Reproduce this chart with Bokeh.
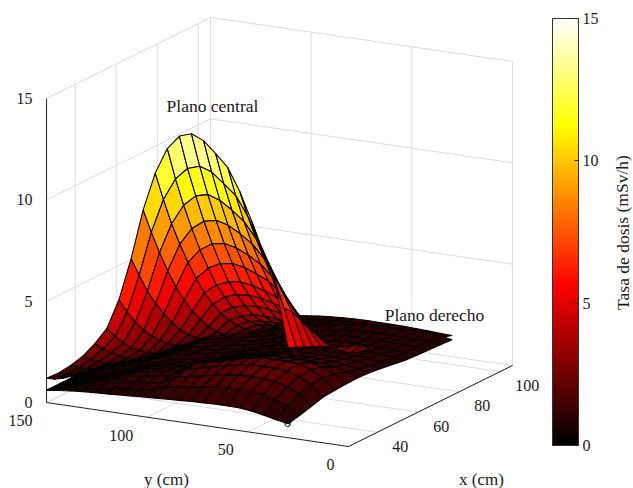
from bokeh.plotting import figure
from bokeh.models import LinearColorMapper, ColorBar, FixedTicker, ColumnDataSource
from bokeh.core.properties import value
from bokeh.embed import file_html
from bokeh.resources import INLINE

FONT = "Liberation Serif"

# ---- data ----
y_grid = [150,144,138,132,126,120,114,108,102,96,90,84,78,72,66,60,54,48,42,36,30]
x_grid = [26,30,34,38,42,46,50,54,58,62,66,70,74,78,82,86,90,94,98,102,106]

z_central = [
[1.2,1.55,2.0,2.55,3.25,4.1,5.6,7.7,10.2,12.1,13.4,14.1,14.3,14.05,13.5,12.9,11.8,10.4,8.8,7.3,4.45],
[.95,1.3,1.7,2.2,2.8,3.5,4.8,6.7,8.9,10.6,11.7,12.3,12.5,12.3,11.8,11.3,10.35,9.1,7.75,6.1,4.26],
[.8,1.1,1.45,1.9,2.4,3.0,4.1,5.7,7.7,9.2,10.2,10.75,10.9,10.7,10.3,9.83,9.06,8.0,6.83,5.7,4.07],
[.7,.95,1.25,1.6,2.05,2.55,3.5,4.9,6.6,8.0,8.85,9.3,9.43,9.27,8.94,8.52,7.87,6.96,5.97,5.1,3.89],
[.6,.85,1.05,1.35,1.75,2.2,3.0,4.2,5.6,6.9,7.6,7.99,8.09,7.95,7.68,7.33,6.78,6.02,5.2,4.5,3.7],
[.5,.75,.9,1.15,1.5,1.9,2.6,3.55,4.75,5.9,6.5,6.81,6.9,6.79,6.56,6.27,5.82,5.19,4.51,3.95,3.5],
[.4,.65,.75,1.0,1.3,1.65,2.25,3.0,4.0,5.0,5.47,5.72,5.79,5.7,5.51,5.29,4.92,4.41,3.86,3.4,3.3],
[.35,.55,.65,.85,1.1,1.45,1.95,2.55,3.4,4.25,4.68,4.88,4.94,4.87,4.72,4.53,4.23,3.82,3.37,2.96,3.1],
[.3,.5,.55,.75,.95,1.25,1.7,2.2,2.85,3.6,3.97,4.14,4.18,4.12,4.0,3.85,3.61,3.29,2.93,2.6,2.95],
[.3,.45,.5,.65,.85,1.1,1.5,1.9,2.4,3.05,3.34,3.47,3.5,3.45,3.36,3.25,3.06,2.81,2.53,2.3,2.75],
[.3,.4,.45,.6,.75,1.0,1.3,1.65,2.05,2.6,2.87,2.97,3.0,2.96,2.89,2.8,2.66,2.46,2.24,2.1,2.45],
[.3,.4,.4,.55,.7,.9,1.15,1.45,1.8,2.2,2.5,2.58,2.6,2.57,2.52,2.45,2.33,2.18,2.01,1.95,2.3],
[.3,.35,.4,.5,.65,.8,1.05,1.3,1.6,1.9,2.18,2.23,2.25,2.23,2.19,2.13,2.05,1.94,1.81,1.8,2.15],
[.3,.35,.4,.5,.6,.75,.95,1.15,1.4,1.7,1.94,1.99,2.0,1.98,1.95,1.91,1.85,1.76,1.66,1.7,2.0],
[.3,.35,.4,.5,.6,.7,.9,1.05,1.25,1.5,1.76,1.79,1.8,1.79,1.76,1.73,1.69,1.62,1.55,1.6,1.85],
[.3,.35,.4,.5,.6,.7,.85,1.0,1.15,1.4,1.62,1.64,1.65,1.64,1.62,1.6,1.56,1.52,1.46,1.5,1.7],
[.3,.35,.4,.5,.6,.7,.8,.95,1.1,1.3,1.48,1.5,1.5,1.49,1.48,1.47,1.44,1.41,1.37,1.4,1.55],
[.3,.4,.5,.6,.7,.75,.85,.95,1.05,1.25,1.39,1.4,1.4,1.4,1.39,1.38,1.36,1.34,1.32,1.3,1.42],
[.3,.4,.5,.6,.7,.75,.85,.95,1.05,1.2,1.29,1.3,1.3,1.3,1.29,1.29,1.28,1.27,1.26,1.2,1.3],
[.3,.4,.5,.6,.7,.75,.85,.95,1.0,1.12,1.17,1.2,1.22,1.22,1.22,1.21,1.2,1.18,1.14,1.1,1.17],
[.3,.4,.5,.6,.7,.75,.85,.9,.98,1.05,1.1,1.14,1.17,1.18,1.17,1.16,1.15,1.13,1.1,1.07,1.05],
]

# how far each column of the right-hand plane reaches in x
x_reach = [26,36,44,52,63,76,83,87,91,96,100,102,104,106,106,106,106,106,106,106,106]

z_derecho = [
[.6,.68,.75,.8,.83,.86,.9,.93,.97,1.0,1.03,1.06,1.09,1.11,1.13,1.13,1.12,1.05,.93,.8,.69],
[.6,.72,.8,.85,.9,.95,1.0,1.03,1.08,1.32,1.39,1.46,1.53,1.6,1.66,1.66,1.65,1.59,1.43,1.22,.82],
[.6,.75,.85,.92,1.0,1.08,1.12,1.16,1.22,1.53,1.63,1.73,1.83,1.92,2.01,2.01,2.0,1.94,1.77,1.5,.98],
[.6,.78,.9,.98,1.08,1.18,1.22,1.27,1.34,1.67,1.78,1.9,2.02,2.13,2.24,2.24,2.23,2.18,1.99,1.69,1.15],
[.6,.8,.93,1.0,1.1,1.22,1.26,1.3,1.37,1.7,1.82,1.94,2.06,2.18,2.29,2.29,2.29,2.24,2.05,1.74,1.2],
[.6,.82,.95,1.02,1.12,1.2,1.22,1.25,1.3,1.6,1.7,1.8,1.9,2.0,2.08,2.08,2.08,2.04,1.88,1.62,1.24],
[.6,.84,.98,1.03,1.1,1.15,1.16,1.17,1.22,1.45,1.52,1.6,1.68,1.75,1.75,1.75,1.75,1.72,1.62,1.45,1.26],
[.6,.86,1.0,1.04,1.08,1.11,1.1,1.1,1.13,1.3,1.36,1.42,1.48,1.54,1.54,1.54,1.54,1.5,1.42,1.3,1.22],
[.6,.88,1.04,1.04,1.08,1.1,1.06,1.05,1.07,1.18,1.22,1.27,1.32,1.36,1.36,1.36,1.36,1.34,1.28,1.18,1.15],
[.6,.93,1.1,1.12,1.16,1.18,1.12,1.08,1.09,1.1,1.13,1.16,1.2,1.23,1.23,1.23,1.23,1.21,1.17,1.08,1.06],
[.6,.95,1.11,1.11,1.15,1.17,1.1,1.04,1.03,1.04,1.06,1.08,1.11,1.13,1.13,1.13,1.13,1.12,1.09,1.03,.97],
[.6,.96,1.11,1.1,1.15,1.17,1.09,1.02,1.0,1.0,1.02,1.03,1.05,1.06,1.06,1.06,1.06,1.05,1.03,.98,.93],
[.6,.97,1.13,1.09,1.15,1.18,1.09,1.01,.98,.98,.99,1.0,1.01,1.02,1.02,1.02,1.02,1.01,1.0,.96,.9],
[.6,.99,1.14,1.08,1.16,1.19,1.08,1.0,.98,.98,.99,.99,1.0,1.0,1.0,1.0,1.0,1.0,1.0,.95,.87],
[.6,1.0,1.15,1.08,1.16,1.2,1.08,1.0,1.0,1.0,1.0,1.0,1.0,1.0,1.0,1.0,1.0,1.0,1.0,.95,.84],
]

x_ticks = [40, 60, 80, 100]
y_ticks = [0, 50, 100, 150]
z_ticks = [0, 5, 10, 15]
bar_ticks = [0, 5, 10, 15]

x_lim = (26, 106)
y_lim = (0, 150)
z_lim = (0, 15)

# ---- orthographic view of the box ----
def project(x, y, z):
    return (348 + (x - 26) * 2.05 - y * 2.013,
            446 - (x - 26) * 1.0125 - y * 0.293 - z * 20.27)

def hot(n=256):
    out = []
    for k in range(n):
        t = k / (n - 1)
        r = min(1, t / .375)
        g = min(1, max(0, (t - .375) / .375))
        b = min(1, max(0, (t - .75) / .25))
        out.append("#%02x%02x%02x" % (int(r * 255), int(g * 255), int(b * 255)))
    return out

mapper = LinearColorMapper(palette=hot(), low=0, high=15)

p = figure(width=633, height=488, x_range=(0, 633), y_range=(488, 0),
           toolbar_location=None, output_backend="svg", min_border=0)
p.axis.visible = False
p.grid.visible = False
p.outline_line_color = None
p.background_fill_color = "white"

# ---- box lines ----
GRID = "#dcdcdc"
gx, gy = [], []
def seg(a, b, store_x=gx, store_y=gy):
    pa, pb = project(*a), project(*b)
    store_x.append([pa[0], pb[0]])
    store_y.append([pa[1], pb[1]])

x0, x1 = x_lim; y0, y1 = y_lim; z0, z1 = z_lim
for t in x_ticks:
    seg((t, y0, z0), (t, y1, z0))
    seg((t, y1, z0), (t, y1, z1))
for t in y_ticks:
    seg((x0, t, z0), (x1, t, z0))
    seg((x1, t, z0), (x1, t, z1))
for t in z_ticks:
    seg((x0, y1, t), (x1, y1, t))
    seg((x1, y1, t), (x1, y0, t))
seg((x1, y1, z0), (x1, y1, z1))
seg((x1, y0, z0), (x1, y0, z1))
p.multi_line(gx, gy, line_color=GRID, line_width=1)

ax, ay = [], []
seg((x0, y1, z0), (x0, y1, z1), ax, ay)
seg((x0, y1, z0), (x0, y0, z0), ax, ay)
seg((x0, y0, z0), (x1, y0, z0), ax, ay)
p.multi_line(ax, ay, line_color="#222222", line_width=1)

# ---- texts ----
def label(xs, ys, txt, align="center", base="middle", size="16px", angle=0.0):
    p.text(xs, ys, text=txt, text_font=value(FONT), text_font_size=size,
           text_align=align, text_baseline=base, text_color="#1a1a1a", angle=angle)

lx, ly, lt = [], [], []
for t in z_ticks:
    s = project(x0, y1, t); lx.append(s[0] - 14); ly.append(s[1]); lt.append(str(t))
label(lx, ly, lt, align="right")
lx, ly, lt = [], [], []
for t in y_ticks:
    s = project(x0, t, z0); lx.append(s[0] - 14); ly.append(s[1] + 18); lt.append(str(t))
label(lx, ly, lt, align="right")
lx, ly, lt = [], [], []
for t in x_ticks:
    s = project(t, y0, z0); lx.append(s[0] + 15); ly.append(s[1] + 14); lt.append(str(t))
label(lx, ly, lt, align="left")
label([287], [421], ["0"])
label([166], [479], ["y (cm)"], size="17px")
label([481], [479], ["x (cm)"], size="17px")

# ---- surfaces, painted column by column ----
def sheet(z_table, x_of, keep):
    xs, ys, zs = [], [], []
    n_r, n_c = len(z_table), len(y_grid)
    for j in range(n_c - 1):
        for r in range(n_r - 1):
            if not keep(r, j):
                continue
            corners = [(r, j), (r, j + 1), (r + 1, j + 1), (r + 1, j)]
            pts = [project(x_of(a, b), y_grid[b], z_table[a][b]) for a, b in corners]
            xs.append([q[0] for q in pts])
            ys.append([q[1] for q in pts])
            zs.append(sum(z_table[a][b] for a, b in corners) / 4)
    return ColumnDataSource(dict(xs=xs, ys=ys, z=zs))

central_x = lambda r, j: x_grid[r]
n_d = len(z_derecho) - 1
derecho_x = lambda r, j: x_lim[0] + (x_reach[j] - x_lim[0]) * r / n_d
is_fan = lambda r, j: j >= 19 and r < 10

layers = [
    (sheet(z_central, central_x, lambda r, j: not is_fan(r, j)), 1.1),
    (sheet(z_derecho, derecho_x, lambda r, j: True), 1.1),
    (sheet(z_central, central_x, is_fan), 1.0),
]
for src, lw in layers:
    p.patches("xs", "ys", source=src,
              fill_color={"field": "z", "transform": mapper},
              line_color="#000000", line_width=lw)

label([212], [105], ["Plano central"], size="17.5px")
label([434], [314], ["Plano derecho"], size="17.5px")
label([622], [232], ["Tasa de dosis (mSv/h)"], size="17.5px", angle=1.5708)

# ---- colour bar ----
bar = ColorBar(color_mapper=mapper, location=(552, 43), width=26, height=427,
               ticker=FixedTicker(ticks=bar_ticks), padding=0, margin=0,
               major_tick_line_color="#222222", major_tick_in=4, major_tick_out=0,
               minor_tick_line_color=None, bar_line_color="#333333", bar_line_width=1,
               border_line_color=None, background_fill_color=None,
               major_label_text_font=FONT, major_label_text_font_size="16px",
               major_label_text_color="#1a1a1a", label_standoff=4)
p.add_layout(bar)

open("out.html", "w").write(file_html(p, INLINE))
